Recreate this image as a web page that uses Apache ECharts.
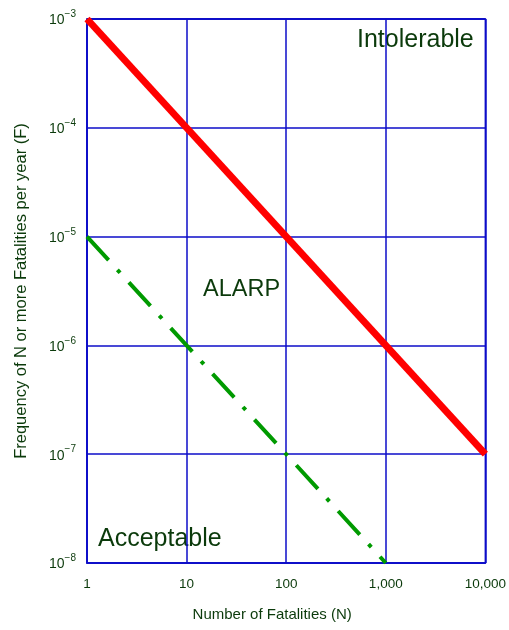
<!DOCTYPE html>
<html>
<head>
<meta charset="utf-8">
<style>html,body{margin:0;padding:0;background:#fff}#c{width:509px;height:630px}</style>
<script src="https://cdn.jsdelivr.net/npm/echarts@6/dist/echarts.min.js"></script>
</head>
<body>
<div id="c"></div>
<script>
// Data
const intolerableLine = [[1, 1e-3], [10000, 1e-7]];
const acceptableLine = [[1, 1e-5], [1000, 1e-8]];
const xTickLabels = ['1', '10', '100', '1,000', '10,000'];
const regionLabels = ['Intolerable', 'ALARP', 'Acceptable'];

const TXT = '#0b3a0b';
const GRIDC = '#0c0cc8';
const FONT = 'Liberation Sans, Arial, sans-serif';

const chart = echarts.init(document.getElementById('c'));
chart.setOption({
  animation: false,
  backgroundColor: '#fff',
  grid: { left: 87, right: 21, top: 19, bottom: 67, show: true, borderColor: GRIDC, borderWidth: 1.5 },
  xAxis: {
    type: 'log', logBase: 10, min: 1, max: 10000,
    name: 'Number of Fatalities (N)', nameLocation: 'middle', nameGap: 44,
    nameTextStyle: { color: TXT, fontSize: 15, fontFamily: FONT, padding: [0, 28, 0, 0] },
    axisLine: { show: true, lineStyle: { color: GRIDC, width: 1.5 } },
    axisTick: { show: false },
    splitLine: { show: true, lineStyle: { color: GRIDC, width: 1.5 } },
    minorTick: { show: false },
    axisLabel: {
      color: TXT, fontSize: 13.5, fontFamily: FONT, margin: 14,
      formatter: function (v) { const e = Math.round(Math.log10(v)); return xTickLabels[e]; }
    }
  },
  yAxis: {
    type: 'log', logBase: 10, min: 1e-8, max: 1e-3,
    name: 'Frequency of N or more Fatalities per year (F)', nameLocation: 'middle', nameGap: 57,
    nameTextStyle: { color: TXT, fontSize: 16.5, fontFamily: FONT },
    axisLine: { show: true, lineStyle: { color: GRIDC, width: 1.5 } },
    axisTick: { show: false },
    splitLine: { show: true, lineStyle: { color: GRIDC, width: 1.5 } },
    axisLabel: {
      color: TXT, fontFamily: FONT, margin: 11,
      formatter: function (v) { const e = Math.round(Math.log10(v)); return '{b|10}{s|\u2212' + Math.abs(e) + '}'; },
      rich: {
        b: { fontSize: 14, color: TXT, fontFamily: FONT, padding: [3, 0, 0, 0] },
        s: { fontSize: 10, color: TXT, fontFamily: FONT, padding: [0, 0, 9, 0] }
      }
    }
  },
  series: [
    {
      type: 'line', data: intolerableLine, symbol: 'none',
      lineStyle: { color: '#ff0000', width: 7, cap: 'butt' }, z: 3
    },
    {
      type: 'line', data: acceptableLine, symbol: 'none',
      lineStyle: { color: '#009a00', width: 4, type: [32, 13, 4, 13], cap: 'butt' }, z: 2
    }
  ],
  graphic: [
    { type: 'text', left: 357, top: 28, style: { text: regionLabels[0], fill: TXT, font: '25px ' + FONT } },
    { type: 'text', left: 203, top: 278, style: { text: regionLabels[1], fill: TXT, font: '23.5px ' + FONT } },
    { type: 'text', left: 98, top: 527, style: { text: regionLabels[2], fill: TXT, font: '25px ' + FONT } }
  ]
});
</script>
</body>
</html>
